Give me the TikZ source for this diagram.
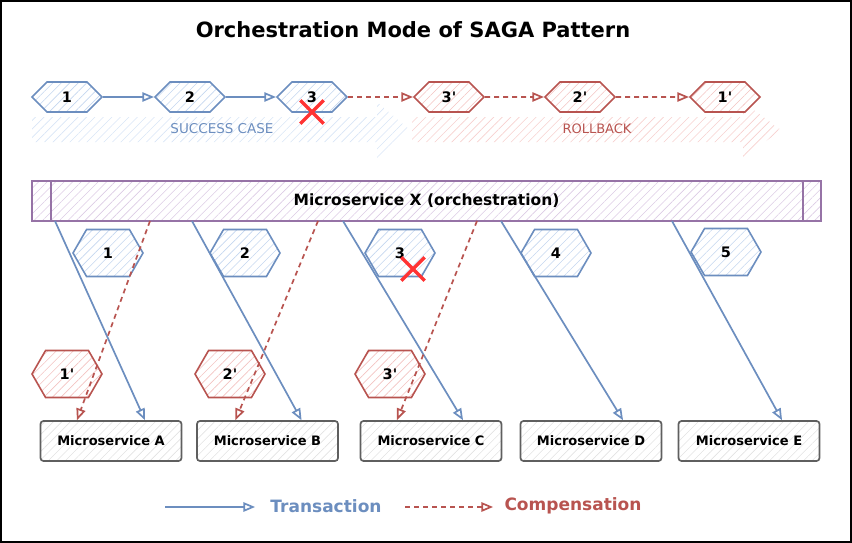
\documentclass[tikz,border=0pt]{standalone}
\usepackage{fontspec}
\setmainfont{DejaVu Sans}
\usepackage{xcolor}
\usetikzlibrary{arrows, calc, positioning, shapes.symbols, shapes.misc, patterns.meta}

\definecolor{txblue}{HTML}{6C8EBF}
\definecolor{txhatch}{HTML}{C4D6EF}
\definecolor{txband}{HTML}{D8E5F6}
\definecolor{cpred}{HTML}{B85450}
\definecolor{cphatch}{HTML}{F3C3C1}
\definecolor{cpband}{HTML}{F7D0CE}
\definecolor{orpurple}{HTML}{9673A6}
\definecolor{orhatch}{HTML}{DCCBE4}
\definecolor{msgray}{HTML}{5F5F5F}
\definecolor{mshatch}{HTML}{E2E2E2}
\definecolor{failred}{HTML}{FF3333}

\begin{document}
\begin{tikzpicture}[x=1pt, y=-1pt, >=open triangle 45,
    hatch/.style={pattern={Lines[angle=45, distance=6pt, line width=0.6pt]}},
    hex/.style={signal, signal to=west and east, hatch, line width=1.6pt,
        inner sep=0pt, minimum width=70pt, font=\bfseries\fontsize{14.5}{16}\selectfont},
    txhex/.style={hex, draw=txblue, pattern color=txhatch},
    cphex/.style={hex, draw=cpred, pattern color=cphatch},
    flat/.style={minimum height=30pt, signal pointer angle=90},
    tall/.style={minimum height=47pt, signal pointer angle=120},
    service/.style={draw=msgray, line width=1.7pt, rounded corners=3pt, hatch,
        pattern color=mshatch, minimum width=141pt, minimum height=40pt,
        font=\bfseries\fontsize{13}{15}\selectfont},
    fail/.style={cross out, draw=failred, line width=3.4pt, minimum size=20pt, inner sep=0pt},
    tx/.style={->, draw=txblue, line width=1.7pt},
    cp/.style={->, draw=cpred, line width=1.7pt, dash pattern=on 5pt off 4pt}
    ]
    \useasboundingbox (0,0) rectangle (852,543);
    \draw[line width=2.5pt] (1,1) rectangle (851,542);

    % title
    \node[font=\bfseries\fontsize{21}{25}\selectfont] (title) at (413, 30) {Orchestration Mode of SAGA Pattern};

    % background bands
    \fill[hatch, pattern color=txband] (32,117) -- (377,117) -- (377,102) -- (410,130) -- (377,158) -- (377,142) -- (32,142) -- cycle;
    \fill[hatch, pattern color=cpband] (412,117) -- (743,117) -- (743,102) -- (781,130) -- (743,158) -- (743,142) -- (412,142) -- cycle;
    \node[text=txblue, font=\fontsize{13.5}{15}\selectfont] (okcase) at (222, 129) {SUCCESS CASE};
    \node[text=cpred, font=\fontsize{13}{15}\selectfont] (rollback) at (597, 129) {ROLLBACK};

    % sequence
    \node[txhex, flat] (t1) at (67, 97) {1};
    \node[txhex, flat] (t2) at (190, 97) {2};
    \node[txhex, flat] (t3) at (312, 97) {3};
    \node[cphex, flat] (r3) at (449, 97) {3\textquotesingle};
    \node[cphex, flat] (r2) at (580, 97) {2\textquotesingle};
    \node[cphex, flat] (r1) at (725, 97) {1\textquotesingle};
    \node[fail] (x1) at (312, 112) {};
    \draw
    (t1) edge[tx] (t2)
    (t2) edge[tx] (t3)
    (t3) edge[cp] (r3)
    (r3) edge[cp] (r2)
    (r2) edge[cp] (r1);

    % orchestrator
    \node[draw=orpurple, line width=1.6pt, hatch, pattern color=orhatch, minimum width=789pt,
        minimum height=40pt, font=\bfseries\fontsize{15.5}{18}\selectfont] (msx) at (426.5, 201) {Microservice X (orchestration)};
    \draw[orpurple, line width=1.6pt]
    ([xshift=20pt]msx.north west) -- ([xshift=20pt]msx.south west)
    ([xshift=-19pt]msx.north east) -- ([xshift=-19pt]msx.south east);

    % services
    \node[service] (ma) at (111, 441) {Microservice A};
    \node[service] (mb) at (267.5, 441) {Microservice B};
    \node[service] (mc) at (431, 441) {Microservice C};
    \node[service] (md) at (591, 441) {Microservice D};
    \node[service] (me) at (749, 441) {Microservice E};

    \node[txhex, tall] (n1) at (108, 253) {1};
    \node[txhex, tall] (n2) at (245, 253) {2};
    \node[txhex, tall] (n3) at (400, 253) {3};
    \node[txhex, tall] (n4) at (556, 253) {4};
    \node[txhex, tall] (n5) at (726, 252) {5};
    \node[cphex, tall] (c1) at (67, 374) {1\textquotesingle};
    \node[cphex, tall] (c2) at (230, 374) {2\textquotesingle};
    \node[cphex, tall] (c3) at (390, 374) {3\textquotesingle};
    \node[fail] (x2) at (413, 269) {};

    \coordinate (s1) at (55, 221);
    \coordinate (s2) at (192, 221);
    \coordinate (s3) at (343, 221);
    \coordinate (s4) at (501, 221);
    \coordinate (s5) at (672, 221);
    \coordinate (u1) at (150, 221);
    \coordinate (u2) at (318, 221);
    \coordinate (u3) at (477, 221);
    \draw
    (s1) edge[tx] ([xshift=34pt]ma.north)
    (s2) edge[tx] ([xshift=34pt]mb.north)
    (s3) edge[tx] ([xshift=32pt]mc.north)
    (s4) edge[tx] ([xshift=32pt]md.north)
    (s5) edge[tx] ([xshift=33pt]me.north)
    (u1) edge[cp] ([xshift=-34pt]ma.north)
    (u2) edge[cp] ([xshift=-32pt]mb.north)
    (u3) edge[cp] ([xshift=-34pt]mc.north);

    % legend
    \coordinate (lg1) at (165, 507);
    \coordinate (lg2) at (255, 507);
    \coordinate (lg3) at (405, 507);
    \coordinate (lg4) at (493, 507);
    \node[text=txblue, font=\bfseries\fontsize{17}{20}\selectfont] (trans) at (326, 506) {Transaction};
    \node[text=cpred, font=\bfseries\fontsize{17}{20}\selectfont] (comp) at (573, 506) {Compensation};
    \draw
    (lg1) edge[tx] (lg2)
    (lg3) edge[cp] (lg4);
\end{tikzpicture}
\end{document}
